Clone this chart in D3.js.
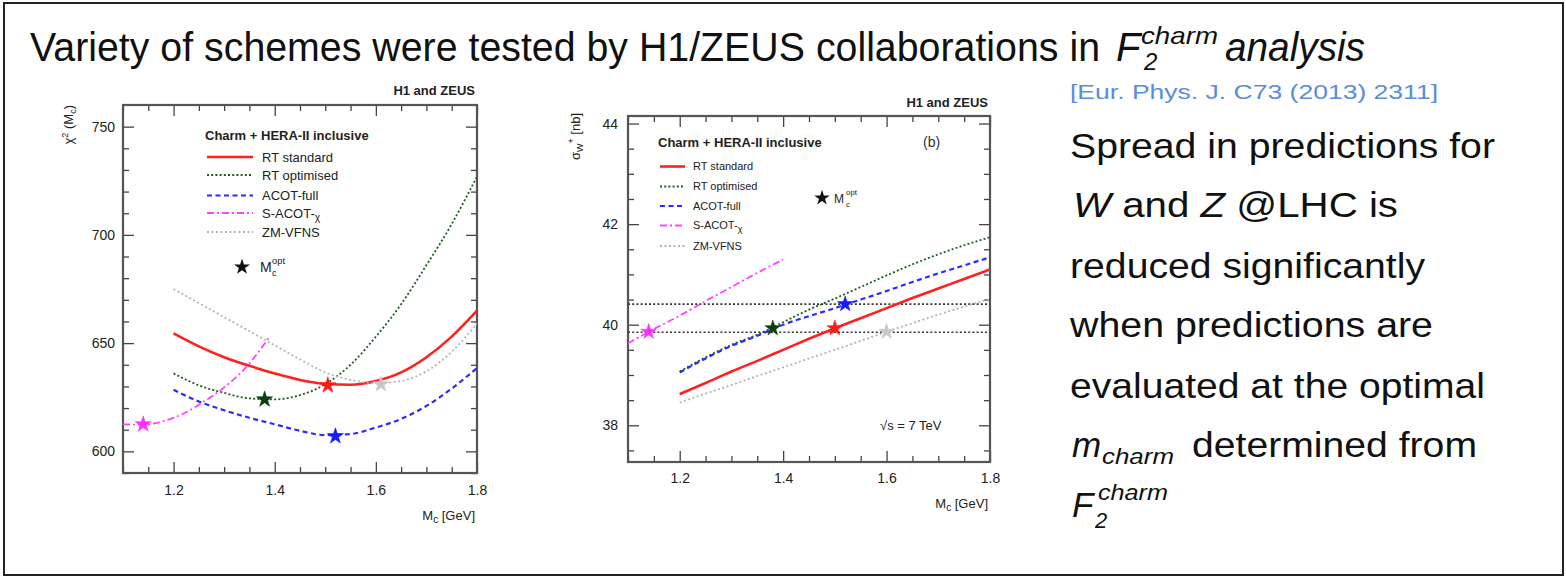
<!DOCTYPE html>
<html><head><meta charset="utf-8">
<script src="https://cdn.jsdelivr.net/npm/d3@7"></script>
<style>
body{margin:0;background:#fff}
svg{display:block}
text{font-family:"Liberation Sans",Arial,Helvetica,sans-serif}
</style>
</head><body>
<svg id="c" width="1566" height="576"></svg>
<script>
// ---------------- data ----------------
const mcGrid = [1.2,1.25,1.3,1.35,1.4,1.45,1.5,1.55,1.6,1.65,1.7,1.75,1.8];
const schemes = ["RT standard","RT optimised","ACOT-full","S-ACOT-χ","ZM-VFNS"];
const mcTicks = [1.2,1.4,1.6,1.8];

// panel (a): chi2 vs Mc
const chi2RTstandard  = [654.5,648.5,643.5,639.5,636,633,631.2,630.8,632.5,636.5,643.5,653,665];
const chi2RToptimised = [636,630.5,627,624.5,624,626,631,640,653,668,686,705,727];
const chi2ACOTfull    = [628.5,623,619,615.5,612.5,609.5,607.5,608,611,615,621,629,638.5];
const chi2SACOTmc     = [1.1,1.14,1.18,1.22,1.26,1.3,1.34,1.39];
const chi2SACOT       = [612.5,612.3,614,617.5,623,629.5,638,653];
const chi2ZMVFNS      = [675,668.5,662,655.5,649,642.5,636.5,633,631.5,632.5,637,646,659];
const chi2OptMc  = [1.505,1.38,1.52,1.14,1.61];
const chi2OptVal = [630.5,624,607,612.5,631];
const chi2YTicks = [600,650,700,750];

// panel (b): sigma_W+ vs Mc
const sigRTstandard  = [38.62,38.84,39.07,39.28,39.5,39.72,39.93,40.13,40.33,40.53,40.72,40.91,41.1];
const sigRToptimised = [39.07,39.35,39.6,39.8,40.05,40.3,40.52,40.75,40.98,41.2,41.4,41.58,41.74];
const sigACOTfull    = [39.05,39.33,39.58,39.78,40.0,40.17,40.33,40.5,40.67,40.85,41.02,41.18,41.34];
const sigSACOTmc     = [1.1,1.14,1.2,1.25,1.3,1.35,1.4];
const sigSACOT       = [39.63,39.86,40.18,40.47,40.75,41.03,41.3];
const sigZMVFNS      = [38.45,38.63,38.8,38.98,39.15,39.33,39.5,39.68,39.86,40.03,40.2,40.36,40.51];
const sigOptMc  = [1.5,1.38,1.52,1.14,1.6];
const sigOptVal = [39.93,39.93,40.41,39.86,39.86];
const sigRefLines = [40.41,39.85];
const sigYTicks = [38,40,42,44];

// ---------------- styles ----------------
const styles = [
  {stroke:"#ff2020", w:2.6, dash:null,      star:"#ff1a1a"},
  {stroke:"#1d5e1d", w:1.8, dash:"2,2.2",   star:"#0e3d0e"},
  {stroke:"#2a2aff", w:2.2, dash:"5,3.5",   star:"#1a1aff"},
  {stroke:"#ff44ff", w:1.8, dash:"7,3,2,3", star:"#ff30ff"},
  {stroke:"#b4b4b4", w:1.8, dash:"2,2.5",   star:"#c8c8c8"}
];

const svg = d3.select("#c");
svg.append("rect").attr("x",4).attr("y",3).attr("width",1559).attr("height",572)
  .attr("fill","none").attr("stroke","#222").attr("stroke-width",2);

function rich(sel, parts){
  parts.forEach(p=>{
    const t = sel.append("tspan").text(p.t);
    if(p.dy!==undefined) t.attr("dy",p.dy);
    if(p.size) t.attr("font-size",p.size);
    if(p.italic) t.attr("font-style","italic");
  });
  return sel;
}

function drawPanel(cfg){
  const g = svg.append("g");
  const x = d3.scaleLinear().domain([1.1,1.8]).range([cfg.x0,cfg.x1]);
  const y = d3.scaleLinear().domain(cfg.yDomain).range([cfg.y1,cfg.y0]);
  const clipId = "clip"+cfg.id;
  svg.append("clipPath").attr("id",clipId).append("rect")
    .attr("x",cfg.x0).attr("y",cfg.y0).attr("width",cfg.x1-cfg.x0).attr("height",cfg.y1-cfg.y0);

  const xMinor = d3.range(1.1,1.8001,0.05).filter(v=>!mcTicks.some(t=>Math.abs(t-v)<1e-6));
  const yMinor = d3.range(cfg.yMinorStart,cfg.yDomain[1],cfg.yMinorStep)
      .filter(v=>!cfg.yTicks.some(t=>Math.abs(t-v)<1e-6));
  const tickStyle = s => s.call(a=>a.select(".domain").remove())
      .call(a=>a.selectAll("line").attr("stroke","#444").attr("stroke-width",1.3));
  const M=11, m=6;
  g.append("g").attr("transform",`translate(0,${cfg.y1})`)
    .call(d3.axisBottom(x).tickValues(mcTicks).tickSize(-M).tickPadding(cfg.xPad).tickFormat(d3.format(".1f")))
    .call(tickStyle).call(a=>a.selectAll("text").attr("font-size",14).attr("fill","#222").attr("font-family",null));
  g.append("g").attr("transform",`translate(0,${cfg.y1})`)
    .call(d3.axisBottom(x).tickValues(xMinor).tickSize(-m).tickFormat("")).call(tickStyle);
  g.append("g").attr("transform",`translate(0,${cfg.y0})`)
    .call(d3.axisTop(x).tickValues(mcTicks).tickSize(-M).tickFormat("")).call(tickStyle);
  g.append("g").attr("transform",`translate(0,${cfg.y0})`)
    .call(d3.axisTop(x).tickValues(xMinor).tickSize(-m).tickFormat("")).call(tickStyle);
  g.append("g").attr("transform",`translate(${cfg.x0},0)`)
    .call(d3.axisLeft(y).tickValues(cfg.yTicks).tickSize(-M).tickPadding(cfg.yPad).tickFormat(d3.format("d")))
    .call(tickStyle).call(a=>a.selectAll("text").attr("font-size",14).attr("fill","#222").attr("font-family",null));
  g.append("g").attr("transform",`translate(${cfg.x0},0)`)
    .call(d3.axisLeft(y).tickValues(yMinor).tickSize(-m).tickFormat("")).call(tickStyle);
  g.append("g").attr("transform",`translate(${cfg.x1},0)`)
    .call(d3.axisRight(y).tickValues(cfg.yTicks).tickSize(-M).tickFormat("")).call(tickStyle);
  g.append("g").attr("transform",`translate(${cfg.x1},0)`)
    .call(d3.axisRight(y).tickValues(yMinor).tickSize(-m).tickFormat("")).call(tickStyle);

  g.append("rect").attr("x",cfg.x0).attr("y",cfg.y0).attr("width",cfg.x1-cfg.x0).attr("height",cfg.y1-cfg.y0)
    .attr("fill","none").attr("stroke","#555").attr("stroke-width",2.2);

  (cfg.refLines||[]).forEach(v=>{
    g.append("line").attr("x1",cfg.x0).attr("x2",cfg.x1).attr("y1",y(v)).attr("y2",y(v))
      .attr("stroke","#333").attr("stroke-width",1.6).attr("stroke-dasharray","2,2.2");
  });

  const line = d3.line().x(d=>x(d[0])).y(d=>y(d[1])).curve(d3.curveMonotoneX);
  const cg = g.append("g").attr("clip-path",`url(#${clipId})`);
  cfg.series.forEach((s,i)=>{
    const st = styles[s.k];
    cg.append("path").datum(d3.zip(s.mc,s.v)).attr("d",line).attr("fill","none")
      .attr("stroke",st.stroke).attr("stroke-width",st.w).attr("stroke-dasharray",st.dash);
  });
  const star = d3.symbol(d3.symbolStar, cfg.starSize);
  cfg.optMc.forEach((mc,i)=>{
    g.append("path").attr("d",star).attr("transform",`translate(${x(mc)},${y(cfg.optVal[i])})`)
      .attr("fill",styles[i].star).attr("stroke",styles[i].star).attr("stroke-width",0.6);
  });

  g.append("text").attr("x",cfg.hx).attr("y",cfg.hy).attr("text-anchor","end")
    .attr("font-size",13).attr("font-weight","bold").attr("fill","#222").text("H1 and ZEUS");

  const L = cfg.legend;
  g.append("text").attr("x",L.tx).attr("y",L.ty).attr("font-size",L.tsize).attr("font-weight","bold")
    .attr("fill","#222").text("Charm + HERA-II inclusive");
  schemes.forEach((name,i)=>{
    const st = styles[i], yy = L.rows[i];
    g.append("line").attr("x1",L.lx0).attr("x2",L.lx1).attr("y1",yy).attr("y2",yy)
      .attr("stroke",st.stroke).attr("stroke-width",st.w).attr("stroke-dasharray",st.dash);
    const t = g.append("text").attr("x",L.labx).attr("y",yy+L.size*0.36).attr("font-size",L.size).attr("fill","#222");
    if(name.endsWith("χ")){
      rich(t,[{t:name.slice(0,-1)},{t:"χ",dy:3,size:L.size*0.8}]);
    } else t.text(name);
  });
  g.append("path").attr("d",d3.symbol(d3.symbolStar, cfg.starSize)())
    .attr("transform",`translate(${L.sx},${L.sy})`).attr("fill","#111");
  g.append("text").attr("x",L.slx).attr("y",L.sy+5).attr("font-size",L.size+1).attr("fill","#222").text("M");
  g.append("text").attr("x",L.slx+12).attr("y",L.sy+9).attr("font-size",(L.size)*0.72).attr("fill","#222").text("c");
  g.append("text").attr("x",L.slx+12).attr("y",L.sy-3).attr("font-size",(L.size)*0.72).attr("fill","#222").text("opt");

  const xt = g.append("text").attr("x",cfg.x1-2).attr("y",cfg.xty).attr("text-anchor","end")
    .attr("font-size",13).attr("fill","#222");
  rich(xt,[{t:"M"},{t:"c",dy:3,size:10},{t:" [GeV]",dy:-3}]);
  const yt = g.append("text").attr("transform",`translate(${cfg.ytx},${cfg.yty}) rotate(-90)`)
    .attr("text-anchor","end").attr("font-size",13).attr("fill","#222");
  rich(yt,cfg.yTitle);
  return {g,x,y};
}

drawPanel({
  id:"a", x0:123, x1:477, y0:105, y1:473, yDomain:[590,760], yTicks:chi2YTicks,
  yMinorStart:590, yMinorStep:10, xPad:12, yPad:8, starSize:80,
  series:[
    {k:0, mc:mcGrid, v:chi2RTstandard},
    {k:1, mc:mcGrid, v:chi2RToptimised},
    {k:2, mc:mcGrid, v:chi2ACOTfull},
    {k:3, mc:chi2SACOTmc, v:chi2SACOT},
    {k:4, mc:mcGrid, v:chi2ZMVFNS}
  ],
  optMc:chi2OptMc, optVal:chi2OptVal,
  hx:475, hy:95,
  legend:{tx:205, ty:140, tsize:13, lx0:207, lx1:253, labx:262, rows:[157,175,195.5,213,232], size:13,
          sx:242, sy:267, slx:260},
  xty:520, ytx:73, yty:105,
  yTitle:[{t:"χ"},{t:"2",dy:-5,size:9},{t:" (M",dy:5},{t:"c",dy:3,size:9},{t:")",dy:-3}]
});

const pb = drawPanel({
  id:"b", x0:628, x1:990, y0:116, y1:462, yDomain:[37.27,44.15], yTicks:sigYTicks,
  yMinorStart:37.5, yMinorStep:0.5, xPad:11, yPad:10, starSize:75,
  refLines:sigRefLines,
  series:[
    {k:0, mc:mcGrid, v:sigRTstandard},
    {k:1, mc:mcGrid, v:sigRToptimised},
    {k:2, mc:mcGrid, v:sigACOTfull},
    {k:3, mc:sigSACOTmc, v:sigSACOT},
    {k:4, mc:mcGrid, v:sigZMVFNS}
  ],
  optMc:sigOptMc, optVal:sigOptVal,
  hx:988, hy:107,
  legend:{tx:658, ty:147, tsize:13, lx0:660, lx1:685, labx:693, rows:[166.5,186.5,206,225.5,246], size:11,
          sx:822, sy:198, slx:834},
  xty:508, ytx:580, yty:113,
  yTitle:[{t:"σ"},{t:"W",dy:3,size:9},{t:"+",dy:-9,size:9},{t:" [nb]",dy:6}]
});
pb.g.append("text").attr("x",923).attr("y",147).attr("font-size",14)
  .attr("font-family","Liberation Serif, Times New Roman, serif").attr("fill","#333").text("(b)");
const sq = pb.g.append("text").attr("x",880).attr("y",430).attr("font-size",13).attr("fill","#222");
rich(sq,[{t:"√s = 7 TeV"}]);

// ---------------- slide text ----------------
const T = svg.append("g").attr("fill","#111");
T.append("text").attr("x",30).attr("y",61).attr("font-size",40)
  .attr("textLength",1070).attr("lengthAdjust","spacingAndGlyphs")
  .text("Variety of schemes were tested by H1/ZEUS collaborations in");
T.append("text").attr("x",1116).attr("y",61).attr("font-size",40).attr("font-style","italic").text("F");
T.append("text").attr("x",1141).attr("y",44).attr("font-size",24).attr("font-style","italic")
  .attr("textLength",77).attr("lengthAdjust","spacingAndGlyphs").text("charm");
T.append("text").attr("x",1144).attr("y",70).attr("font-size",24).attr("font-style","italic").text("2");
T.append("text").attr("x",1225).attr("y",61).attr("font-size",40).attr("font-style","italic")
  .attr("textLength",140).attr("lengthAdjust","spacingAndGlyphs").text("analysis");

svg.append("text").attr("x",1070).attr("y",99).attr("font-size",21).attr("fill","#5a8ed8")
  .attr("textLength",368).attr("lengthAdjust","spacingAndGlyphs").text("[Eur. Phys. J. C73 (2013) 2311]");

const R = svg.append("g").attr("fill","#111").attr("font-size",35);
function rline(x,y,len,parts){
  const t = R.append("text").attr("x",x).attr("y",y).attr("textLength",len).attr("lengthAdjust","spacingAndGlyphs");
  rich(t,parts); return t;
}
rline(1070,158,425,[{t:"Spread in predictions for"}]);
rline(1073,217,325,[{t:"W",italic:true},{t:" and "},{t:"Z",italic:true},{t:" @LHC is"}]);
rline(1070,278,355,[{t:"reduced significantly"}]);
rline(1070,337,363,[{t:"when predictions are"}]);
rline(1070,398,415,[{t:"evaluated at the optimal"}]);
R.append("text").attr("x",1072).attr("y",457).attr("font-style","italic").text("m");
R.append("text").attr("x",1102).attr("y",464).attr("font-size",22).attr("font-style","italic")
  .attr("textLength",72).attr("lengthAdjust","spacingAndGlyphs").text("charm");
R.append("text").attr("x",1192).attr("y",457).attr("textLength",285).attr("lengthAdjust","spacingAndGlyphs")
  .text("determined from");
R.append("text").attr("x",1072).attr("y",517).attr("font-style","italic").text("F");
R.append("text").attr("x",1098).attr("y",500).attr("font-size",22).attr("font-style","italic")
  .attr("textLength",70).attr("lengthAdjust","spacingAndGlyphs").text("charm");
R.append("text").attr("x",1095).attr("y",528).attr("font-size",22).attr("font-style","italic").text("2");
</script>
</body></html>
